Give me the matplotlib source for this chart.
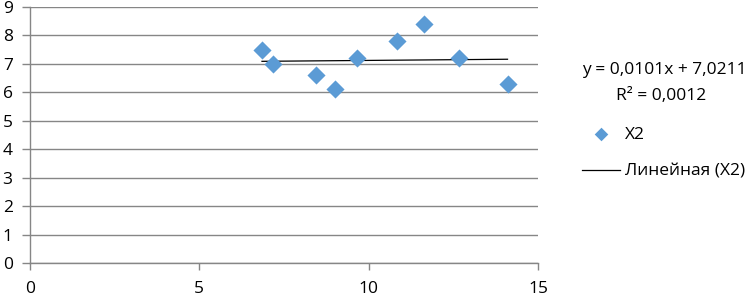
import matplotlib.pyplot as plt

# scatter data (X2)
x_vals = [6.85, 7.18, 8.44, 9.0, 9.66, 10.84, 11.63, 12.66, 14.1]
y_vals = [7.5, 7.0, 6.6, 6.1, 7.2, 7.8, 8.4, 7.2, 6.3]

# linear trend as reported
slope = 0.0101
intercept = 7.0211
r_squared = 0.0012

x_ticks = [0, 5, 10, 15]
y_ticks = list(range(0, 10))

plt.rcParams["font.family"] = ["Open Sans", "DejaVu Sans"]

grid_col = "#868686"
point_col = "#5b9bd5"
fs = 12.5

fig = plt.figure(figsize=(7.51, 2.97), dpi=100)
ax = fig.add_axes([30 / 751, 34 / 297, 508 / 751, 256 / 297])

ax.scatter(x_vals, y_vals, marker="D", s=85, color=point_col, zorder=3,
           linewidths=0, label="X2")

x_min, x_max = min(x_vals), max(x_vals)
ax.plot([x_min, x_max], [slope * x_min + intercept, slope * x_max + intercept],
        color="black", lw=0.9, zorder=2, label="Линейная (X2)")

ax.set_xlim(0, 15)
ax.set_ylim(0, 9)
ax.set_xticks(x_ticks)
ax.set_yticks(y_ticks)
ax.yaxis.grid(True, color=grid_col, lw=1)
ax.set_axisbelow(True)

for side in ("top", "right"):
    ax.spines[side].set_visible(False)
for side in ("left", "bottom"):
    ax.spines[side].set_color(grid_col)
    ax.spines[side].set_linewidth(1)

ax.tick_params(axis="both", colors=grid_col, labelcolor="black", labelsize=fs,
               width=1, direction="out")
ax.tick_params(axis="x", length=5, pad=8)
ax.tick_params(axis="y", length=6, pad=6.5)

# trendline equation
fig.text(664 / 751, 1 - 70 / 297,
         f"y = {slope:.4f}x + {intercept:.4f}".replace(".", ","),
         ha="center", va="center", fontsize=fs)
fig.text(661 / 751, 1 - 96 / 297,
         f"R² = {r_squared:.4f}".replace(".", ","),
         ha="center", va="center", fontsize=fs)

handles, labels = ax.get_legend_handles_labels()
fig.legend(handles, labels, loc="upper left", bbox_to_anchor=(566 / 751, 1 - 111 / 297),
           frameon=False, fontsize=fs, handlelength=2.2, handletextpad=0.3,
           labelspacing=1.2, scatterpoints=1, markerscale=0.75)

fig.savefig("out.png", dpi=100)
